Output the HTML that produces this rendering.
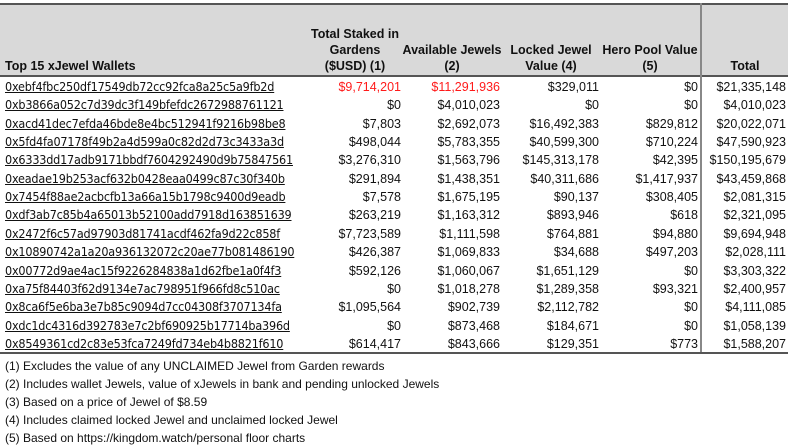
<!DOCTYPE html>
<html><head><meta charset="utf-8"><style>
body{margin:0;width:788px;height:445px;background:#fff;position:relative;overflow:hidden;font-family:"Liberation Sans",Arial,sans-serif;color:#111}
.hdr{position:absolute;left:0;top:3px;width:788px;height:74px;background:#d9d9d9;border-top:2px solid #555;border-bottom:2px solid #555;box-sizing:border-box}
.h{position:absolute;font-weight:bold;font-size:12.5px;text-align:center;line-height:16px}
.w{position:absolute;left:5px;font-size:12.5px;text-decoration:underline;font-family:"DejaVu Sans Condensed","Liberation Sans",sans-serif;letter-spacing:-0.2px;line-height:18px}
.n{position:absolute;font-size:12.5px;text-align:right;line-height:18px;width:110px}
.f{position:absolute;left:5px;font-size:12px;line-height:18px}
</style></head><body>
<div class="hdr"></div>
<div style="position:absolute;left:700px;top:3px;width:2px;height:351px;background:#888"></div>
<div style="position:absolute;left:0;top:352px;width:788px;height:2px;background:#555"></div>
<div class="h" style="left:5px;top:58px;text-align:left">Top 15 xJewel Wallets</div>
<div class="h" style="left:298px;width:114px;top:26px">Total Staked in<br>Gardens<br>($USD) (1)</div>
<div class="h" style="left:398px;width:108px;top:42px">Available Jewels<br>(2)</div>
<div class="h" style="left:500px;width:102px;top:42px">Locked Jewel<br>Value (4)</div>
<div class="h" style="left:596px;width:108px;top:42px">Hero Pool Value<br>(5)</div>
<div class="h" style="left:702px;width:86px;top:58px">Total</div>
<div id="rows"></div>
<div class="f" style="top:357px">(1) Excludes the value of any UNCLAIMED Jewel from Garden rewards</div>
<div class="f" style="top:375px">(2) Includes wallet Jewels, value of xJewels in bank and pending unlocked Jewels</div>
<div class="f" style="top:393px">(3) Based on a price of Jewel of $8.59</div>
<div class="f" style="top:411px">(4) Includes claimed locked Jewel and unclaimed locked Jewel</div>
<div class="f" style="top:429px">(5) Based on https://kingdom.watch/personal floor charts</div>
<script>
const wallets=["0xebf4fbc250df17549db72cc92fca8a25c5a9fb2d","0xb3866a052c7d39dc3f149bfefdc2672988761121","0xacd41dec7efda46bde8e4bc512941f9216b98be8","0x5fd4fa07178f49b2a4d599a0c82d2d73c3433a3d","0x6333dd17adb9171bbdf7604292490d9b75847561","0xeadae19b253acf632b0428eaa0499c87c30f340b","0x7454f88ae2acbcfb13a66a15b1798c9400d9eadb","0xdf3ab7c85b4a65013b52100add7918d163851639","0x2472f6c57ad97903d81741acdf462fa9d22c858f","0x10890742a1a20a936132072c20ae77b081486190","0x00772d9ae4ac15f9226284838a1d62fbe1a0f4f3","0xa75f84403f62d9134e7ac798951f966fd8c510ac","0x8ca6f5e6ba3e7b85c9094d7cc04308f3707134fa","0xdc1dc4316d392783e7c2bf690925b17714ba396d","0x8549361cd2c83e53fca7249fd734eb4b8821f610"];
const staked=["$9,714,201","$0","$7,803","$498,044","$3,276,310","$291,894","$7,578","$263,219","$7,723,589","$426,387","$592,126","$0","$1,095,564","$0","$614,417"];
const avail=["$11,291,936","$4,010,023","$2,692,073","$5,783,355","$1,563,796","$1,438,351","$1,675,195","$1,163,312","$1,111,598","$1,069,833","$1,060,067","$1,018,278","$902,739","$873,468","$843,666"];
const locked=["$329,011","$0","$16,492,383","$40,599,300","$145,313,178","$40,311,686","$90,137","$893,946","$764,881","$34,688","$1,651,129","$1,289,358","$2,112,782","$184,671","$129,351"];
const hero=["$0","$0","$829,812","$710,224","$42,395","$1,417,937","$308,405","$618","$94,880","$497,203","$0","$93,321","$0","$0","$773"];
const total=["$21,335,148","$4,010,023","$20,022,071","$47,590,923","$150,195,679","$43,459,868","$2,081,315","$2,321,095","$9,694,948","$2,028,111","$3,303,322","$2,400,957","$4,111,085","$1,058,139","$1,588,207"];
const rows=document.getElementById('rows');
const cols=[[staked,401,'staked'],[avail,500,'available'],[locked,599,'locked'],[hero,698,'hero'],[total,786,'total']];
wallets.forEach((w,i)=>{
  const top=78+i*18.35;
  const a=document.createElement('div');a.className='w';a.style.top=top+'px';a.textContent=w;
  
  
  rows.appendChild(a);
  cols.forEach(([arr,r,nm],c)=>{
    const d=document.createElement('div');d.className='n';d.style.top=top+'px';d.style.left=(r-110)+'px';d.textContent=arr[i];
    if(i===0&&c<2)d.style.color='#ff1a1a';
    
    
    rows.appendChild(d);
  });
});
</script>
</body></html>
